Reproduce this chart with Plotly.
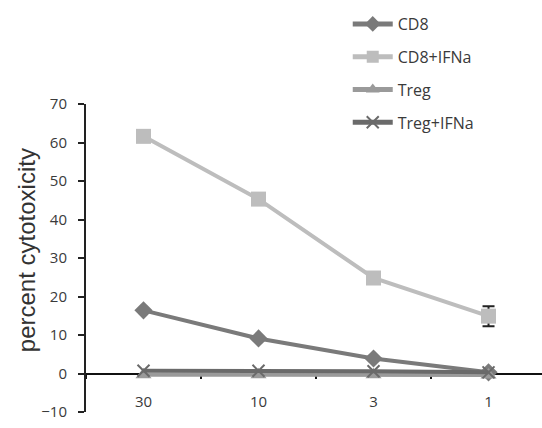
import plotly.graph_objects as go

# effector : target ratios
ratios = ["30", "10", "3", "1"]

cd8 = [16.4, 9.1, 3.9, 0.3]
cd8_ifna = [61.6, 45.3, 24.8, 14.9]
cd8_ifna_err = [0.0, 1.5, 0.0, 2.6]
treg = [-0.3, -0.3, -0.3, -0.4]
treg_ifna = [0.7, 0.7, 0.6, 0.3]

y_title = "percent cytotoxicity"

fig = go.Figure()

fig.add_trace(go.Scatter(
    x=ratios, y=cd8, name="CD8", mode="lines+markers",
    line=dict(color="#7a7a7a", width=4),
    marker=dict(symbol="diamond", size=14, color="#7a7a7a"),
    legendgroup="a",
))
fig.add_trace(go.Scatter(
    x=ratios, y=cd8_ifna, name="CD8+IFNa", mode="lines+markers",
    line=dict(color="#bdbdbd", width=4),
    marker=dict(symbol="square", size=15, color="#bdbdbd"),
    error_y=dict(type="data", array=cd8_ifna_err, color="#222", thickness=2, width=6),
    legendgroup="b",
))
fig.add_trace(go.Scatter(
    x=ratios, y=treg, name="Treg", mode="lines+markers",
    line=dict(color="#9a9a9a", width=4),
    marker=dict(symbol="triangle-up", size=14, color="#9a9a9a"),
    legendgroup="c",
))
fig.add_trace(go.Scatter(
    x=ratios, y=treg_ifna, name="Treg+IFNa", mode="lines+markers",
    line=dict(color="#6a6a6a", width=4),
    marker=dict(symbol="x-thin", size=12, color="#6a6a6a",
                line=dict(color="#6a6a6a", width=2)),
    legendgroup="d",
))

# rotated y-axis title, placed left of the tick labels
fig.add_annotation(
    text=y_title, textangle=-90, showarrow=False,
    xref="paper", yref="paper", x=-0.129, y=0.526,
    xanchor="center", yanchor="middle",
    font=dict(family="Liberation Sans, Arial, sans-serif", size=24, color="#333"),
)

fig.update_layout(
    width=542, height=428,
    margin=dict(l=86, r=0, t=104, b=16),
    paper_bgcolor="white", plot_bgcolor="white",
    font=dict(family="Open Sans, Liberation Sans, sans-serif", size=15, color="#3a3a3a"),
    legend=dict(
        x=0.574, y=1.315, xanchor="left", yanchor="top",
        font=dict(size=16, color="#3a3a3a"),
        tracegroupgap=9, itemwidth=40, itemsizing="constant",
        bgcolor="rgba(0,0,0,0)",
    ),
    xaxis=dict(
        type="category", range=[-0.5, 3.465],
        anchor="free", position=0.125,
        showline=True, linecolor="#111", linewidth=2,
        ticks="outside", tickson="boundaries", ticklen=4, tickwidth=2, tickcolor="#111",
        ticklabelstandoff=14,
        showgrid=False, zeroline=False, layer="below traces",
        tickfont=dict(size=15, color="#3a3a3a"),
    ),
    yaxis=dict(
        range=[-10, 70], dtick=10,
        showline=True, linecolor="#222", linewidth=2,
        ticks="outside", ticklen=6, tickwidth=2, tickcolor="#222",
        ticklabelstandoff=8,
        showgrid=False, zeroline=False,
        tickfont=dict(size=15, color="#3a3a3a"),
    ),
)

fig.write_html("out.html")
